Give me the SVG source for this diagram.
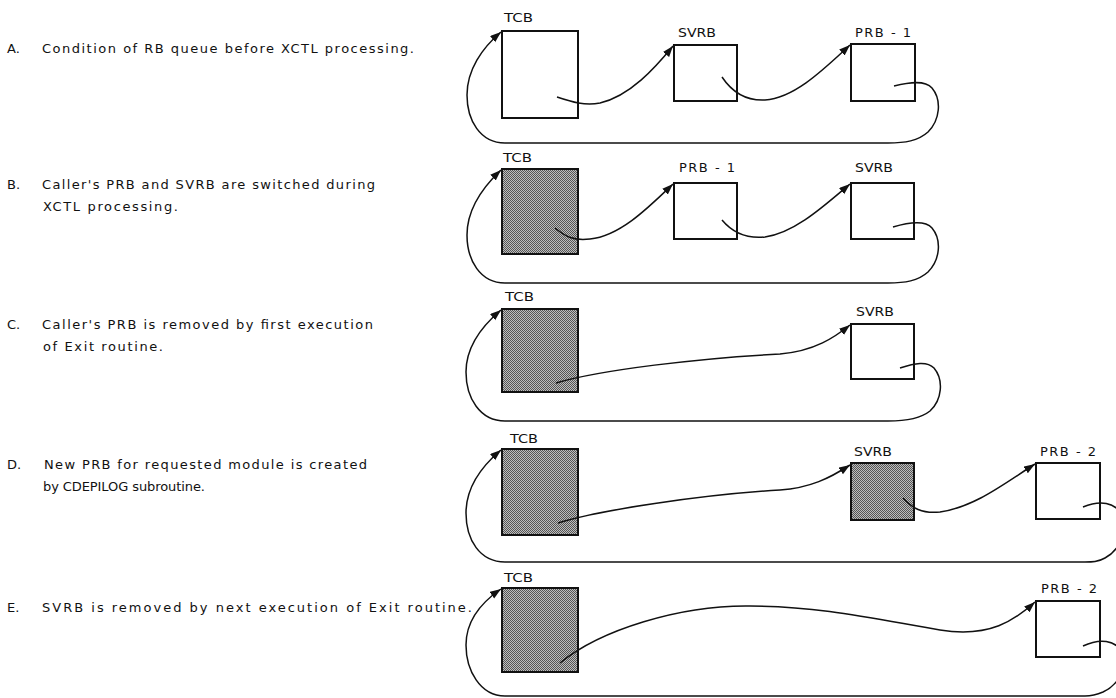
<svg xmlns="http://www.w3.org/2000/svg" width="1116" height="698" viewBox="0 0 1116 698">
<style>
.box{fill:#fff;stroke:#111;stroke-width:2}
.sh{fill:url(#stip);stroke:#111;stroke-width:2}
.lbl{font-family:"DejaVu Sans","Liberation Sans",sans-serif;font-size:13px;fill:#111}
.txt{font-family:"DejaVu Sans","Liberation Sans",sans-serif;font-size:13px;fill:#111}
.c{fill:none;stroke:#111;stroke-width:1.5}
.ca{fill:none;stroke:#111;stroke-width:1.5;marker-end:url(#ah)}
</style>
<defs>
<pattern id="stip" width="2" height="2" patternUnits="userSpaceOnUse">
<rect width="2" height="2" fill="#bdbdbd"/>
<rect x="0" y="0" width="1" height="1" fill="#555"/>
<rect x="1" y="1" width="1" height="1" fill="#555"/>
</pattern>
<marker id="ah" markerUnits="userSpaceOnUse" markerWidth="12" markerHeight="9" refX="11" refY="4" orient="auto">
<path d="M0,0 L11,4 L0,8 z" fill="#111"/>
</marker>
</defs>
<rect width="1116" height="698" fill="#fff"/>

<g id="captions">
<text class="txt" x="7" y="53">A.</text>
<text class="txt" x="42" y="53" textLength="372" lengthAdjust="spacing">Condition of RB queue before XCTL processing.</text>
<text class="txt" x="7" y="189">B.</text>
<text class="txt" x="42" y="189" textLength="333" lengthAdjust="spacing">Caller's PRB and SVRB are switched during</text>
<text class="txt" x="43" y="211" textLength="135" lengthAdjust="spacing">XCTL processing.</text>
<text class="txt" x="7" y="329">C.</text>
<text class="txt" x="42" y="329" textLength="331" lengthAdjust="spacing">Caller's PRB is removed by first execution</text>
<text class="txt" x="43" y="351" textLength="120" lengthAdjust="spacing">of Exit routine.</text>
<text class="txt" x="7" y="469">D.</text>
<text class="txt" x="44" y="469" textLength="323" lengthAdjust="spacing">New PRB for requested module is created</text>
<text class="txt" x="43" y="491" textLength="162" lengthAdjust="spacing">by CDEPILOG subroutine.</text>
<text class="txt" x="7" y="612">E.</text>
<text class="txt" x="42" y="612" textLength="430" lengthAdjust="spacing">SVRB is removed by next execution of Exit routine.</text>
</g>

<!-- Panel A -->
<g id="A-TCB"><rect class="box" x="502" y="31" width="76" height="87"/><text class="lbl" x="504" y="22" textLength="29" lengthAdjust="spacingAndGlyphs">TCB</text></g>
<g id="A-SVRB"><rect class="box" x="674" y="45" width="63" height="56"/><text class="lbl" x="678" y="37" textLength="38" lengthAdjust="spacingAndGlyphs">SVRB</text></g>
<g id="A-PRB1"><rect class="box" x="851" y="44" width="64" height="57"/><text class="lbl" x="855" y="37" textLength="56" lengthAdjust="spacing">PRB - 1</text></g>

<!-- Panel B -->
<g id="B-TCB"><rect class="sh" x="502" y="169" width="76" height="85"/><text class="lbl" x="503" y="162" textLength="29" lengthAdjust="spacingAndGlyphs">TCB</text></g>
<g id="B-PRB1"><rect class="box" x="674" y="183" width="63" height="56"/><text class="lbl" x="679" y="172" textLength="56" lengthAdjust="spacing">PRB - 1</text></g>
<g id="B-SVRB"><rect class="box" x="851" y="183" width="63" height="56"/><text class="lbl" x="855" y="172" textLength="38" lengthAdjust="spacingAndGlyphs">SVRB</text></g>

<!-- Panel C -->
<g id="C-TCB"><rect class="sh" x="502" y="309" width="76" height="83"/><text class="lbl" x="505" y="301" textLength="29" lengthAdjust="spacingAndGlyphs">TCB</text></g>
<g id="C-SVRB"><rect class="box" x="851" y="324" width="63" height="55"/><text class="lbl" x="856" y="316" textLength="38" lengthAdjust="spacingAndGlyphs">SVRB</text></g>

<!-- Panel D -->
<g id="D-TCB"><rect class="sh" x="502" y="449" width="76" height="86"/><text class="lbl" x="510" y="443" textLength="28" lengthAdjust="spacingAndGlyphs">TCB</text></g>
<g id="D-SVRB"><rect class="sh" x="851" y="463" width="63" height="57"/><text class="lbl" x="854" y="456" textLength="38" lengthAdjust="spacingAndGlyphs">SVRB</text></g>
<g id="D-PRB2"><rect class="box" x="1036" y="463" width="64" height="56"/><text class="lbl" x="1040" y="456" textLength="56" lengthAdjust="spacing">PRB - 2</text></g>

<!-- Panel E -->
<g id="E-TCB"><rect class="sh" x="502" y="588" width="76" height="84"/><text class="lbl" x="504" y="582" textLength="29" lengthAdjust="spacingAndGlyphs">TCB</text></g>
<g id="E-PRB2"><rect class="box" x="1036" y="601" width="64" height="56"/><text class="lbl" x="1041" y="593" textLength="56" lengthAdjust="spacing">PRB - 2</text></g>

<g id="connectors">
<!-- A -->
<path class="ca" d="M557,97 C572,102 585,106 600,103 C630,96 655,68 673,46"/>
<path class="ca" d="M722,77 C732,92 745,101 765,100 C795,98 825,68 850,45"/>
<path class="ca" d="M894,86 C910,82 925,80 932,88 C942,100 940,120 928,132 C918,141 905,143 888,143 L505,143 C480,143 467,120 467,95 C467,70 482,48 501,32"/>
<!-- B -->
<path class="ca" d="M555,228 C565,236 572,241 590,239 C620,236 648,208 673,184"/>
<path class="ca" d="M722,220 C732,232 745,239 765,237 C795,233 825,205 850,184"/>
<path class="ca" d="M893,227 C910,222 925,220 932,228 C942,240 940,260 928,272 C918,281 905,283 888,283 L505,283 C480,283 467,260 467,235 C467,210 482,188 501,170"/>
<!-- C -->
<path class="ca" d="M556,383 C600,370 700,358 780,354 C815,351 835,337 850,325"/>
<path class="ca" d="M900,368 C915,363 927,361 934,368 C944,380 942,400 930,411 C920,419 905,421 888,421 L505,421 C480,421 466,398 466,372 C466,346 482,326 501,310"/>
<!-- D -->
<path class="ca" d="M558,523 C600,510 700,495 780,490 C810,488 830,478 850,465"/>
<path class="ca" d="M903,498 C912,508 922,514 940,512 C975,507 1005,483 1035,464"/>
<path class="ca" d="M1083,507 C1100,500 1115,502 1122,515 C1128,530 1120,550 1105,558 C1098,562 1092,562 1085,562 L505,562 C480,562 466,540 466,513 C466,488 482,466 501,450"/>
<!-- E -->
<path class="ca" d="M560,663 C600,630 680,605 750,606 C820,606 880,620 940,630 C990,638 1015,620 1035,602"/>
<path class="ca" d="M1083,646 C1100,638 1115,640 1122,652 C1128,668 1118,685 1103,692 C1096,695 1092,696 1085,696 L505,696 C480,696 466,670 466,645 C466,620 482,602 501,589"/>
</g>
</svg>
